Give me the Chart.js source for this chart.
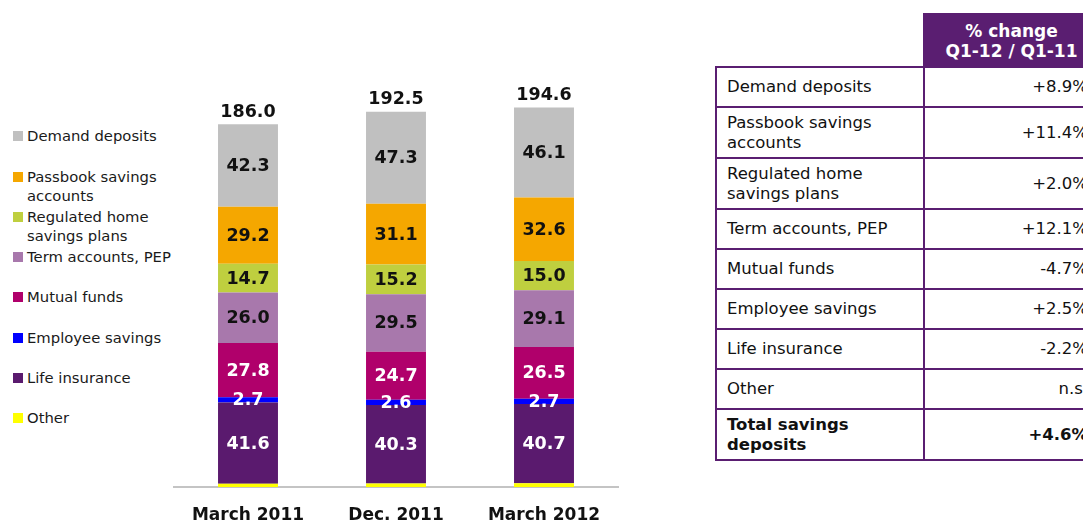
<!DOCTYPE html>
<html><head><meta charset="utf-8">
<script src="https://cdn.jsdelivr.net/npm/chart.js@4.4.1/dist/chart.umd.min.js"></script>
<style>
html,body{margin:0;padding:0;width:1083px;height:525px;overflow:hidden;background:#fff;font-family:"DejaVu Sans",Verdana,sans-serif;}
#chartBox{position:absolute;left:170px;top:60px;width:460px;height:465px;}
#legend{position:absolute;left:0;top:0;width:200px;}
.li{position:absolute;left:13px;font-size:14.8px;color:#1a1a1a;line-height:19.5px;white-space:pre;padding-left:14px;}
.li i{position:absolute;left:0;top:5px;width:10px;height:10px;}
#tbl{position:absolute;left:715px;top:13px;border-collapse:collapse;font-size:16.5px;color:#111;table-layout:fixed;width:383px;}
#tbl th.blank{border:none;background:none;padding:0;}
#tbl th.head{background:#5a1e71;color:#fff;font-weight:bold;font-size:17px;text-align:center;line-height:20px;height:51px;padding:0;border:2px solid #5a1e71;}
#tbl td{border:2px solid #5a1e71;padding:0;line-height:19.5px;white-space:pre-line;}
#tbl td.n{padding-left:10px;}
#tbl td.v{text-align:right;padding-right:10px;}
#tbl tr.b td{font-weight:bold;}
</style>
</head><body>
<div id="legend"></div>
<div id="chartBox"><canvas id="c" width="460" height="465"></canvas></div>
<table id="tbl"><colgroup><col style="width:208px"><col style="width:175px"></colgroup><thead><tr><th class="blank"></th><th class="head">% change<br>Q1-12 / Q1-11</th></tr></thead><tbody id="tb"></tbody></table>
<script>
const categories = ["March 2011", "Dec. 2011", "March 2012"];
const seriesNames = ["Demand deposits", "Passbook savings accounts", "Regulated home savings plans", "Term accounts, PEP", "Mutual funds", "Employee savings", "Life insurance", "Other"];
const legendLabels = ["Demand deposits", "Passbook savings\naccounts", "Regulated home\nsavings plans", "Term accounts, PEP", "Mutual funds", "Employee savings", "Life insurance", "Other"];
const demandDeposits = [42.3, 47.3, 46.1];
const passbookSavings = [29.2, 31.1, 32.6];
const regulatedHome = [14.7, 15.2, 15.0];
const termAccounts = [26.0, 29.5, 29.1];
const mutualFunds = [27.8, 24.7, 26.5];
const employeeSavings = [2.7, 2.6, 2.7];
const lifeInsurance = [41.6, 40.3, 40.7];
const otherSavings = [1.7, 1.8, 1.9];
const totals = [186.0, 192.5, 194.6];
const tableLabels = ["Demand deposits", "Passbook savings\naccounts", "Regulated home\nsavings plans", "Term accounts, PEP", "Mutual funds", "Employee savings", "Life insurance", "Other", "Total savings\ndeposits"];
const tableChanges = ["+8.9%", "+11.4%", "+2.0%", "+12.1%", "-4.7%", "+2.5%", "-2.2%", "n.s.", "+4.6%"];

const colors = ["#c0c0c0", "#f5a700", "#bfcf3f", "#a878ac", "#b0006b", "#0000ff", "#5a1a6e", "#ffff00"];
const labelColors = ["#111", "#111", "#111", "#111", "#fff", "#fff", "#fff", null];
const seriesData = [demandDeposits, passbookSavings, regulatedHome, termAccounts, mutualFunds, employeeSavings, lifeInsurance, otherSavings];

// legend
const lg = document.getElementById('legend');
legendLabels.forEach((t, i) => {
  const d = document.createElement('div');
  d.className = 'li';
  d.style.top = (136 + i * 40.3 - 9.75) + 'px';
  const sq = document.createElement('i');
  sq.style.background = colors[i];
  d.appendChild(sq);
  d.appendChild(document.createTextNode(t));
  lg.appendChild(d);
});

// table
const tb = document.getElementById('tb');
tableLabels.forEach((t, i) => {
  const tr = document.createElement('tr');
  if (i === tableLabels.length - 1) tr.className = 'b';
  const h = t.includes('\n') ? 51 : 40;
  const a = document.createElement('td'); a.className = 'n'; a.textContent = t; a.style.height = (h - 2) + 'px';
  const b = document.createElement('td'); b.className = 'v'; b.textContent = tableChanges[i];
  tr.appendChild(a); tr.appendChild(b); tb.appendChild(tr);
});

// datasets bottom -> top
const datasets = [];
for (let i = seriesData.length - 1; i >= 0; i--) {
  datasets.push({
    label: seriesNames[i],
    data: seriesData[i],
    backgroundColor: colors[i],
    borderWidth: 0,
    barPercentage: 0.405,
    categoryPercentage: 1.0,
    labelColor: labelColors[i]
  });
}

const FONT = '"DejaVu Sans", Verdana, sans-serif';
const segLabels = {
  id: 'segLabels',
  afterDatasetsDraw(chart) {
    const ctx = chart.ctx;
    ctx.save();
    ctx.font = 'bold 17.5px ' + FONT;
    ctx.textAlign = 'center';
    ctx.textBaseline = 'middle';
    chart.data.datasets.forEach((ds, i) => {
      if (!ds.labelColor) return;
      const meta = chart.getDatasetMeta(i);
      meta.data.forEach((el, j) => {
        ctx.fillStyle = ds.labelColor;
        ctx.fillText(ds.data[j].toFixed(1), el.x, (el.y + el.base) / 2 + 1);
      });
    });
    const topMeta = chart.getDatasetMeta(chart.data.datasets.length - 1);
    ctx.fillStyle = '#111';
    ctx.textBaseline = 'bottom';
    topMeta.data.forEach((el, j) => ctx.fillText(totals[j].toFixed(1), el.x, el.y - 3));
    ctx.restore();
  }
};

new Chart(document.getElementById('c'), {
  type: 'bar',
  data: { labels: categories, datasets },
  options: {
    responsive: false,
    animation: false,
    layout: { padding: { left: 4, right: 12, top: 37, bottom: 0 } },
    plugins: { legend: { display: false }, tooltip: { enabled: false } },
    scales: {
      x: {
        stacked: true,
        grid: { display: false, drawTicks: false },
        border: { display: true, color: '#c4c4c4', width: 2 },
        ticks: { font: { family: FONT, size: 17, weight: 'bold' }, color: '#111', padding: 18 },
        afterFit(s) { s.height = 38; }
      },
      y: { stacked: true, display: false, min: 0, max: 200 }
    }
  },
  plugins: [segLabels]
});
</script>
</body></html>
